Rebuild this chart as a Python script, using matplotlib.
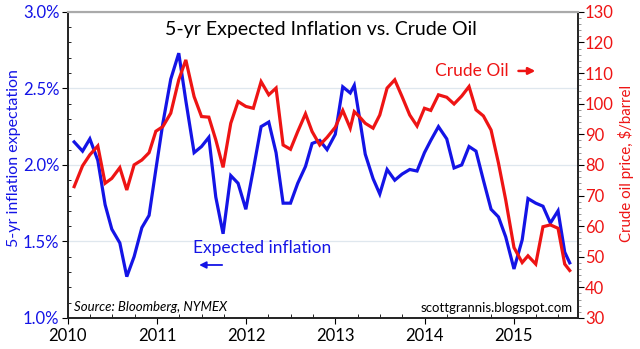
import numpy as np
import matplotlib
matplotlib.use('Agg')
import matplotlib.pyplot as plt
from matplotlib.ticker import MultipleLocator, FuncFormatter

BLUE = '#1414e6'
RED = '#ee1414'

# decimal years, roughly monthly
dates = [2010.071, 2010.165, 2010.247, 2010.336, 2010.418, 2010.493, 2010.583, 2010.661,
         2010.743, 2010.830, 2010.911, 2010.987, 2011.065, 2011.154, 2011.244, 2011.323,
         2011.416, 2011.499, 2011.581, 2011.659, 2011.741, 2011.827, 2011.909, 2011.996,
         2012.080, 2012.167, 2012.253, 2012.335, 2012.414, 2012.497, 2012.578, 2012.665,
         2012.739, 2012.825, 2012.907, 2012.999, 2013.083, 2013.167, 2013.212, 2013.262,
         2013.335, 2013.423, 2013.498, 2013.580, 2013.666, 2013.748, 2013.834, 2013.916,
         2013.999, 2014.070, 2014.156, 2014.249, 2014.331, 2014.417, 2014.499, 2014.577,
         2014.660, 2014.746, 2014.829, 2014.910, 2015.003, 2015.095, 2015.160, 2015.247,
         2015.328, 2015.411, 2015.497, 2015.572, 2015.628]

# 5-yr expected inflation, %
infl = [2.15, 2.09, 2.17, 2.03, 1.74, 1.58, 1.49, 1.27, 1.40, 1.59, 1.67, 1.97,
        2.27, 2.56, 2.73, 2.42, 2.08, 2.12, 2.18, 1.79, 1.55, 1.93, 1.88, 1.71,
        1.97, 2.25, 2.28, 2.08, 1.75, 1.75, 1.88, 1.99, 2.14, 2.16, 2.10, 2.20,
        2.51, 2.47, 2.52, 2.34, 2.07, 1.91, 1.81, 1.97, 1.90, 1.94, 1.97, 1.96,
        2.08, 2.16, 2.25, 2.17, 1.98, 2.00, 2.12, 2.09, 1.90, 1.71, 1.66, 1.53,
        1.32, 1.51, 1.78, 1.75, 1.73, 1.62, 1.70, 1.43, 1.36]

# crude oil, $/barrel
oil = [72.9, 79.7, 83.3, 86.2, 74.0, 75.6, 79.1, 71.8, 80.0, 81.6, 84.0, 91.0,
       92.5, 96.9, 107.8, 114.3, 102.3, 95.8, 95.6, 88.2, 79.2, 93.6, 100.7, 99.1,
       98.5, 107.2, 102.9, 105.1, 86.5, 85.1, 90.9, 96.7, 90.9, 86.5, 89.0, 92.3,
       97.8, 92.0, 97.4, 96.0, 93.6, 92.0, 96.3, 105.1, 107.8, 102.3, 96.3, 92.7,
       98.5, 97.8, 102.9, 102.1, 99.9, 102.5, 105.6, 98.0, 96.0, 91.4, 80.6, 68.6,
       53.0, 48.1, 50.3, 47.6, 59.8, 60.4, 59.3, 47.6, 45.5]

years = [2010, 2011, 2012, 2013, 2014, 2015]

plt.rcParams['font.family'] = ['Lato', 'DejaVu Sans']

fig = plt.figure(figsize=(6.4, 3.49), dpi=100)
ax = fig.add_axes([0.106, 0.089, 0.797, 0.877])
ax2 = ax.twinx()

ax.plot(dates, infl, color=BLUE, lw=2.3, solid_joinstyle='miter')
ax2.plot(dates, oil, color=RED, lw=2.3, solid_joinstyle='miter')

ax.set_xlim(2010, 2015.72)
ax.set_ylim(1.0, 3.0)
ax2.set_ylim(30, 130)

ax.set_xticks(years)
ax.set_xticklabels([str(y) for y in years])
ax.xaxis.set_minor_locator(MultipleLocator(0.25))
ax.yaxis.set_major_locator(MultipleLocator(0.5))
ax.yaxis.set_minor_locator(MultipleLocator(0.1))
ax.yaxis.set_major_formatter(FuncFormatter(lambda v, p: '%.1f%%' % v))
ax2.yaxis.set_major_locator(MultipleLocator(10))
ax2.yaxis.set_minor_locator(MultipleLocator(2))

ax.grid(axis='y', which='major', color='#dfe7ee', lw=0.9)
ax.set_axisbelow(True)

ax.tick_params(axis='x', which='major', direction='out', length=4, pad=3, labelsize=12, colors='black')
ax.tick_params(axis='x', which='minor', direction='in', length=3)
ax.tick_params(axis='y', which='major', direction='out', length=4, pad=2, labelsize=12, labelcolor=BLUE)
ax.tick_params(axis='y', which='minor', direction='in', length=2.5)
ax2.tick_params(axis='y', which='major', direction='out', length=4, pad=1, labelsize=12, labelcolor=RED)
ax2.tick_params(axis='y', which='minor', direction='out', length=2, color='#888888')

for a in (ax, ax2):
    for s in ('left', 'right', 'bottom'):
        a.spines[s].set_color('#222222')
        a.spines[s].set_linewidth(1.2)
    a.spines['top'].set_color('#aaaaaa')
    a.spines['top'].set_linewidth(1.5)

ax.set_ylabel('5-yr inflation expectation', color=BLUE, fontsize=11.5)
ax.yaxis.set_label_coords(-0.092, 0.523)
ax2.set_ylabel('Crude oil price, $/barrel', color=RED, fontsize=10.8)
ax2.yaxis.set_label_coords(1.078, 0.505)

# titles and labels inside the plot
ax.text(0.496, 0.941, '5-yr Expected Inflation vs. Crude Oil', transform=ax.transAxes,
        ha='center', va='center', fontsize=14, color='black')
ax.text(0.72, 0.807, 'Crude Oil', transform=ax.transAxes, ha='left', va='center',
        fontsize=12.5, color=RED)
ax.annotate('', xy=(0.922, 0.807), xytext=(0.878, 0.807), xycoords='axes fraction',
            arrowprops=dict(arrowstyle='-|>', color=RED, lw=1.8, mutation_scale=10))
ax.text(0.245, 0.23, 'Expected inflation', transform=ax.transAxes, ha='left', va='center',
        fontsize=12.5, color=BLUE)
ax.annotate('', xy=(0.252, 0.173), xytext=(0.308, 0.173), xycoords='axes fraction',
            arrowprops=dict(arrowstyle='-|>', color=BLUE, lw=1.3, mutation_scale=10))
ax.text(0.012, 0.037, 'Source: Bloomberg, NYMEX', transform=ax.transAxes, ha='left',
        va='center', fontsize=9.5, style='italic', color='black')
ax.text(0.99, 0.034, 'scottgrannis.blogspot.com', transform=ax.transAxes, ha='right',
        va='center', fontsize=9.5, color='black')

fig.savefig('out.png', dpi=100)
